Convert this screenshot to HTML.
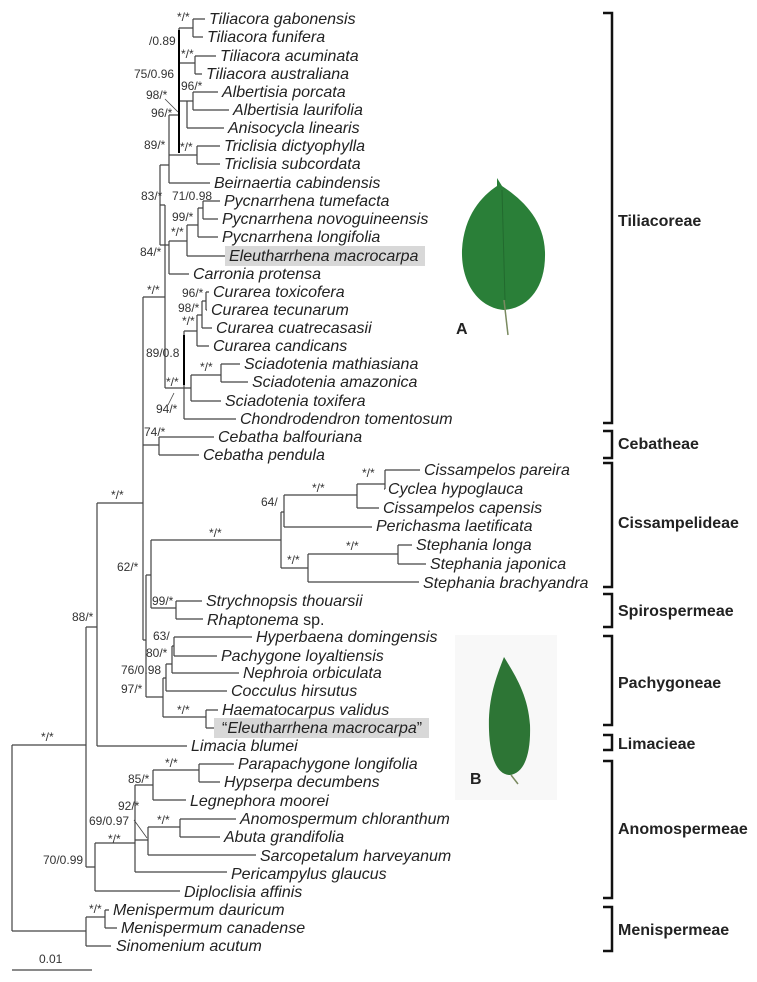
<!DOCTYPE html>
<html><head><meta charset="utf-8"><style>
html,body{margin:0;padding:0;background:#fff;}
svg{display:block;}
.t{font-family:"Liberation Sans",sans-serif;font-style:italic;font-size:16px;fill:#222;}
.s{font-family:"Liberation Sans",sans-serif;font-size:12px;fill:#333;}
.c{font-family:"Liberation Sans",sans-serif;font-weight:bold;font-size:16px;fill:#222;}
</style></head><body>
<svg width="757" height="982" viewBox="0 0 757 982" xmlns="http://www.w3.org/2000/svg">
<g stroke="#444" stroke-width="1.2" fill="none">
<path d="M12 745V931M12 745H86M12 931H86"/>
<path d="M86 917V946M86 946H111M86 917H105M105 910V928M105 910H109M105 928H117"/>
<path d="M86 627V867M86 627H97M86 867H95"/>
<path d="M97 503V746M97 746H187M97 503H143"/>
<path d="M95 843V891M95 891H180M95 843H135M135 785V872M135 872H227M135 785H153M153 770V800M153 800H186M153 770H199M199 764V782M199 764H234M199 782H220M135 840H148M148 827V855M148 855H256M148 827H180M180 819V837M180 819H236M180 837H220"/>
<path d="M143 297V640M143 640H146M146 575V697M146 575H151M151 540V608M151 608H176M176 601V619M176 601H202M176 619H203M151 540H281"/>
<path d="M143 445H159M159 437V455M159 437H214M159 455H199"/>
<path d="M281 512V568M281 512H284M284 495V527M284 527H372M284 495H357M357 484V508M357 508H379M357 484H385M385 470V489M385 470H420M385 489H384M281 568H308M308 554V582M308 582H419M308 554H398M398 545V564M398 545H412M398 564H426"/>
<path d="M146 697H163M163 678V717M163 678H166M166 664V691M166 691H227M166 664H172M172 646V673M172 673H239M172 646H174M174 637V656M174 637H252M174 656H217M163 717H206M206 710V728M206 710H218M206 728H218"/>
<path d="M143 297H165M165 205V388M160 205H165"/>
<path d="M160 165V245M160 165H169M160 245H169"/>
<path d="M169 115V183M169 183H210M169 115H179M179 28V115M179 28H193M193 19V37M193 19H205M193 37H203M179 63H195M195 56V74M195 56H216M195 74H202M179 101H187M187 101V128M187 128H224M187 101H193M193 92V110M193 92H218M193 110H229M169 155H197M197 146V164M197 146H220M197 164H220"/>
<path d="M169 241V274M169 274H189M169 241H187M187 225V256M187 256H225M187 225H198M198 208V237M198 237H218M198 208H203M203 201V219M203 201H220M203 219H218"/>
<path d="M165 388H184M184 331V419M184 419H236M184 331H197M197 315V346M197 346H209M197 315H202M202 301V328M202 328H212M202 301H206M206 292V310M206 292H209M206 310H207M184 388H191M191 375V401M191 401H221M191 375H221M221 364V382M221 364H240M221 382H248"/>
<path d="M12 970H92"/>
</g>
<g stroke="#000" stroke-width="2" fill="none">
<path d="M179 30V153M184 335V385"/>
</g>
<rect x="225" y="246" width="200" height="20" fill="#d8d8d8"/>
<rect x="214" y="718" width="215" height="20" fill="#d8d8d8"/>
<rect x="455" y="635" width="102" height="165" fill="#f8f8f8"/>
<path d="M497 178 L502 186 C520 198 544 218 545 252 C546 288 528 308 504 310 C480 308 461 285 462 250 C464 215 482 196 497 186Z" fill="#2a7f38"/>
<path d="M504 300 L508 335" stroke="#7a8a60" stroke-width="1.5" fill="none"/>
<path d="M502 190 L505 300" stroke="#226a2e" stroke-width="1" fill="none"/>
<path d="M504 657 C495 680 488 700 489 730 C490 760 498 775 510 775 C524 773 531 755 530 725 C528 695 515 675 504 657Z" fill="#2d7535"/>
<path d="M511 775 L518 784" stroke="#7a8a60" stroke-width="1.5" fill="none"/>
<text x="456" y="334" class="c">A</text>
<text x="470" y="784" class="c">B</text>
<g class="t">
<text x="209" y="24">Tiliacora gabonensis</text>
<text x="207" y="42">Tiliacora funifera</text>
<text x="220" y="61">Tiliacora acuminata</text>
<text x="206" y="79">Tiliacora australiana</text>
<text x="222" y="97">Albertisia porcata</text>
<text x="233" y="115">Albertisia laurifolia</text>
<text x="228" y="133">Anisocycla linearis</text>
<text x="224" y="151">Triclisia dictyophylla</text>
<text x="224" y="169">Triclisia subcordata</text>
<text x="214" y="188">Beirnaertia cabindensis</text>
<text x="224" y="206">Pycnarrhena tumefacta</text>
<text x="222" y="224">Pycnarrhena novoguineensis</text>
<text x="222" y="242">Pycnarrhena longifolia</text>
<text x="229" y="261">Eleutharrhena macrocarpa</text>
<text x="193" y="279">Carronia protensa</text>
<text x="213" y="297">Curarea toxicofera</text>
<text x="211" y="315">Curarea tecunarum</text>
<text x="216" y="333">Curarea cuatrecasasii</text>
<text x="213" y="351">Curarea candicans</text>
<text x="244" y="369">Sciadotenia mathiasiana</text>
<text x="252" y="387">Sciadotenia amazonica</text>
<text x="225" y="406">Sciadotenia toxifera</text>
<text x="240" y="424">Chondrodendron tomentosum</text>
<text x="218" y="442">Cebatha balfouriana</text>
<text x="203" y="460">Cebatha pendula</text>
<text x="424" y="475">Cissampelos pareira</text>
<text x="388" y="494">Cyclea hypoglauca</text>
<text x="383" y="513">Cissampelos capensis</text>
<text x="376" y="531">Perichasma laetificata</text>
<text x="416" y="550">Stephania longa</text>
<text x="430" y="569">Stephania japonica</text>
<text x="423" y="588">Stephania brachyandra</text>
<text x="206" y="606">Strychnopsis thouarsii</text>
<text x="207" y="625"><tspan>Rhaptonema</tspan><tspan style="font-style:normal"> sp.</tspan></text>
<text x="256" y="642">Hyperbaena domingensis</text>
<text x="221" y="661">Pachygone loyaltiensis</text>
<text x="243" y="678">Nephroia orbiculata</text>
<text x="231" y="696">Cocculus hirsutus</text>
<text x="222" y="715">Haematocarpus validus</text>
<text x="222" y="733"><tspan style="font-style:normal">“</tspan>Eleutharrhena macrocarpa<tspan style="font-style:normal">”</tspan></text>
<text x="191" y="751">Limacia blumei</text>
<text x="238" y="769">Parapachygone longifolia</text>
<text x="224" y="787">Hypserpa decumbens</text>
<text x="190" y="806">Legnephora moorei</text>
<text x="240" y="824">Anomospermum chloranthum</text>
<text x="224" y="842">Abuta grandifolia</text>
<text x="260" y="861">Sarcopetalum harveyanum</text>
<text x="231" y="879">Pericampylus glaucus</text>
<text x="184" y="897">Diploclisia affinis</text>
<text x="113" y="915">Menispermum dauricum</text>
<text x="121" y="933">Menispermum canadense</text>
<text x="116" y="951">Sinomenium acutum</text>
</g>
<g class="s">
<text x="177" y="21">*/*</text>
<text x="149" y="45">/0.89</text>
<text x="181" y="58">*/*</text>
<text x="134" y="78">75/0.96</text>
<text x="181" y="90">96/*</text>
<text x="146" y="99">98/*</text>
<text x="151" y="117">96/*</text>
<text x="144" y="149">89/*</text>
<text x="180" y="151">*/*</text>
<text x="141" y="200">83/*</text>
<text x="172" y="200">71/0.98</text>
<text x="172" y="221">99/*</text>
<text x="171" y="236">*/*</text>
<text x="140" y="256">84/*</text>
<text x="147" y="294">*/*</text>
<text x="182" y="297">96/*</text>
<text x="178" y="312">98/*</text>
<text x="182" y="325">*/*</text>
<text x="146" y="357">89/0.8</text>
<text x="200" y="371">*/*</text>
<text x="166" y="386">*/*</text>
<text x="156" y="413">94/*</text>
<text x="144" y="436">74/*</text>
<text x="111" y="499">*/*</text>
<text x="261" y="506">64/</text>
<text x="312" y="492">*/*</text>
<text x="362" y="477">*/*</text>
<text x="209" y="537">*/*</text>
<text x="117" y="571">62/*</text>
<text x="346" y="550">*/*</text>
<text x="287" y="564">*/*</text>
<text x="152" y="605">99/*</text>
<text x="72" y="621">88/*</text>
<text x="153" y="640">63/</text>
<text x="146" y="657">80/*</text>
<text x="121" y="674">76/0.98</text>
<text x="121" y="693">97/*</text>
<text x="177" y="714">*/*</text>
<text x="41" y="741">*/*</text>
<text x="165" y="767">*/*</text>
<text x="128" y="783">85/*</text>
<text x="118" y="810">92/*</text>
<text x="89" y="825">69/0.97</text>
<text x="157" y="824">*/*</text>
<text x="108" y="843">*/*</text>
<text x="43" y="864">70/0.99</text>
<text x="89" y="913">*/*</text>
<text x="39" y="963">0.01</text>
</g>
<g stroke="#444" stroke-width="0.8">
<path d="M165 99L178 112M134 820L147 838M174 393L168 405"/>
</g>
<g stroke="#111" stroke-width="2.5" fill="none">
<path d="M603 13H612V423H603"/>
<path d="M603 431H612V458H603"/>
<path d="M603 463H612V587H603"/>
<path d="M603 594H612V627H603"/>
<path d="M603 636H612V725H603"/>
<path d="M603 735H612V750H603"/>
<path d="M603 761H612V898H603"/>
<path d="M603 907H612V951H603"/>
</g>
<g class="c">
<text x="618" y="226">Tiliacoreae</text>
<text x="618" y="449">Cebatheae</text>
<text x="618" y="528">Cissampelideae</text>
<text x="618" y="616">Spirospermeae</text>
<text x="618" y="688">Pachygoneae</text>
<text x="618" y="749">Limacieae</text>
<text x="618" y="834">Anomospermeae</text>
<text x="618" y="935">Menispermeae</text>
</g>
</svg>
</body></html>
